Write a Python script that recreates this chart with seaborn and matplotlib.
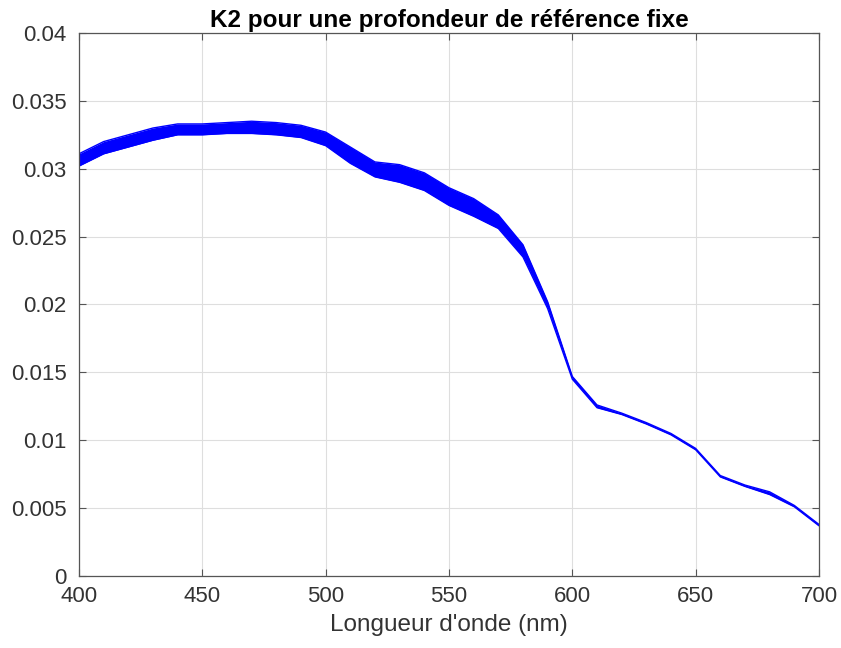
import numpy as np
import pandas as pd
import matplotlib
matplotlib.use('Agg')
import matplotlib.pyplot as plt
import seaborn as sns

# wavelength (nm)
wl = [400, 410, 420, 430, 440, 450, 460, 470, 480, 490, 500, 510, 520, 530, 540, 550,
      560, 570, 580, 590, 600, 610, 620, 630, 640, 650, 660, 670, 680, 690, 700]
# upper / lower edge of the bundle of K2 curves
k2_high = [0.0311, 0.0320, 0.0325, 0.0330, 0.0333, 0.0333, 0.0334, 0.0335, 0.0334, 0.0332,
           0.0327, 0.0316, 0.0305, 0.0303, 0.0297, 0.0286, 0.0278, 0.0266, 0.0244, 0.0202,
           0.0147, 0.0126, 0.0120, 0.0113, 0.0105, 0.0094, 0.0074, 0.0067, 0.0062, 0.0052, 0.0038]
k2_low = [0.0302, 0.0311, 0.0316, 0.0321, 0.0325, 0.0325, 0.0326, 0.0326, 0.0325, 0.0323,
          0.0317, 0.0304, 0.0294, 0.0290, 0.0284, 0.0273, 0.0265, 0.0256, 0.0235, 0.0197,
          0.0145, 0.0124, 0.0119, 0.0112, 0.0104, 0.0093, 0.0073, 0.0066, 0.0060, 0.0051, 0.0037]

df = pd.DataFrame({'wl': wl, 'haut': k2_high, 'bas': k2_low})

sns.set_theme(style='whitegrid')
plt.rcParams['font.family'] = ['Liberation Sans', 'DejaVu Sans']

fig = plt.figure(figsize=(8.41, 6.48), dpi=100)
ax = fig.add_axes([0.0939, 0.1111, 0.8799, 0.8380])

ax.fill_between(df['wl'], df['bas'], df['haut'], color='#0000ff', lw=0)
sns.lineplot(data=df, x='wl', y='haut', color='#0000ff', lw=1.0, ax=ax)
sns.lineplot(data=df, x='wl', y='bas', color='#0000ff', lw=1.0, ax=ax)

ax.set_xlim(400, 700)
ax.set_ylim(0, 0.04)
ax.set_xticks(np.arange(400, 701, 50))
ax.set_yticks(np.arange(0, 0.0401, 0.005))
ax.set_yticklabels(['0', '0.005', '0.01', '0.015', '0.02', '0.025', '0.03', '0.035', '0.04'])

ax.set_facecolor('white')
ax.grid(True, color='#dedede', lw=0.8)
for s in ax.spines.values():
    s.set_color('#555555')
    s.set_linewidth(0.9)
ax.tick_params(direction='in', length=5, width=0.8, color='#555555', labelsize=16,
               labelcolor='#333333', top=True, right=True, bottom=True, left=True)
ax.tick_params(axis='y', pad=9)
ax.tick_params(axis='x', pad=7)

ax.set_xlabel("Longueur d'onde (nm)", fontsize=17.5, color='#333333', labelpad=5)
ax.set_ylabel('')
ax.set_title('K2 pour une profondeur de référence fixe', fontsize=17.5, fontweight='bold',
             color='black', pad=4)

fig.savefig('out.png', dpi=100, facecolor='white')
